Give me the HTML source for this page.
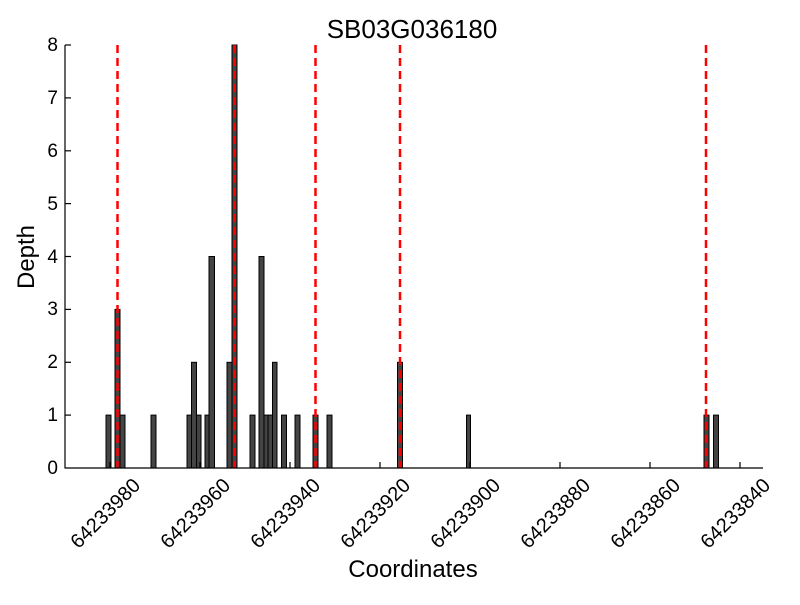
<!DOCTYPE html>
<html><head><style>body{margin:0;background:#fff}svg text{font-family:"Liberation Sans",sans-serif}</style></head>
<body>
<svg width="800" height="600" xmlns="http://www.w3.org/2000/svg">
<rect width="800" height="600" fill="#fff"/>
<g fill="#444" stroke="#000" stroke-width="1">
<rect x="106" y="415.1" width="5" height="52.9"/>
<rect x="115" y="309.4" width="5" height="158.6"/>
<rect x="120" y="415.1" width="5" height="52.9"/>
<rect x="151" y="415.1" width="5" height="52.9"/>
<rect x="187" y="415.1" width="4.5" height="52.9"/>
<rect x="191.5" y="362.3" width="5" height="105.7"/>
<rect x="196.5" y="415.1" width="4.5" height="52.9"/>
<rect x="205" y="415.1" width="4" height="52.9"/>
<rect x="209" y="256.5" width="5.5" height="211.5"/>
<rect x="227" y="362.3" width="5" height="105.7"/>
<rect x="232" y="45" width="5" height="423"/>
<rect x="250" y="415.1" width="5" height="52.9"/>
<rect x="259" y="256.5" width="5" height="211.5"/>
<rect x="264" y="415.1" width="4" height="52.9"/>
<rect x="268" y="415.1" width="4.5" height="52.9"/>
<rect x="272.5" y="362.3" width="4.5" height="105.7"/>
<rect x="281.5" y="415.1" width="5" height="52.9"/>
<rect x="295" y="415.1" width="5" height="52.9"/>
<rect x="313" y="415.1" width="5" height="52.9"/>
<rect x="327" y="415.1" width="5" height="52.9"/>
<rect x="397.5" y="362.3" width="5" height="105.7"/>
<rect x="466.5" y="415.1" width="4" height="52.9"/>
<rect x="704" y="415.1" width="5" height="52.9"/>
<rect x="713.5" y="415.1" width="5" height="52.9"/>
</g>
<g stroke="#f00" stroke-width="2.5" stroke-dasharray="8,5">
<line x1="117.5" y1="45" x2="117.5" y2="468"/>
<line x1="234.5" y1="45" x2="234.5" y2="468"/>
<line x1="315.5" y1="45" x2="315.5" y2="468"/>
<line x1="400" y1="45" x2="400" y2="468"/>
<line x1="706" y1="45" x2="706" y2="468"/>
</g>
<g stroke="#000" stroke-width="1.2">
<line x1="65" y1="45" x2="65" y2="468.5"/>
<line x1="65" y1="468" x2="763" y2="468"/>
<line x1="65" y1="45" x2="71" y2="45"/><line x1="65" y1="97.9" x2="71" y2="97.9"/>
<line x1="65" y1="150.8" x2="71" y2="150.8"/><line x1="65" y1="203.6" x2="71" y2="203.6"/>
<line x1="65" y1="256.5" x2="71" y2="256.5"/><line x1="65" y1="309.4" x2="71" y2="309.4"/>
<line x1="65" y1="362.3" x2="71" y2="362.3"/><line x1="65" y1="415.1" x2="71" y2="415.1"/>
<line x1="110" y1="468" x2="110" y2="462"/><line x1="200" y1="468" x2="200" y2="462"/>
<line x1="290" y1="468" x2="290" y2="462"/><line x1="380" y1="468" x2="380" y2="462"/>
<line x1="470" y1="468" x2="470" y2="462"/><line x1="560" y1="468" x2="560" y2="462"/>
<line x1="650" y1="468" x2="650" y2="462"/><line x1="740" y1="468" x2="740" y2="462"/>
</g>
<g font-size="19" text-anchor="end">
<text x="58" y="51">8</text><text x="58" y="104">7</text><text x="58" y="157">6</text>
<text x="58" y="210">5</text><text x="58" y="263">4</text><text x="58" y="315">3</text>
<text x="58" y="368">2</text><text x="58" y="421">1</text><text x="58" y="474">0</text>
</g>
<g font-size="20" text-anchor="middle">
<text transform="translate(110,518) rotate(-45)">64233980</text>
<text transform="translate(200,518) rotate(-45)">64233960</text>
<text transform="translate(290,518) rotate(-45)">64233940</text>
<text transform="translate(380,518) rotate(-45)">64233920</text>
<text transform="translate(470,518) rotate(-45)">64233900</text>
<text transform="translate(560,518) rotate(-45)">64233880</text>
<text transform="translate(650,518) rotate(-45)">64233860</text>
<text transform="translate(740,518) rotate(-45)">64233840</text>
</g>
<text x="413" y="577" font-size="24" text-anchor="middle">Coordinates</text>
<text transform="translate(34,257) rotate(-90)" font-size="24" text-anchor="middle">Depth</text>
<text x="412" y="38" font-size="26" text-anchor="middle">SB03G036180</text>
</svg>
</body></html>
